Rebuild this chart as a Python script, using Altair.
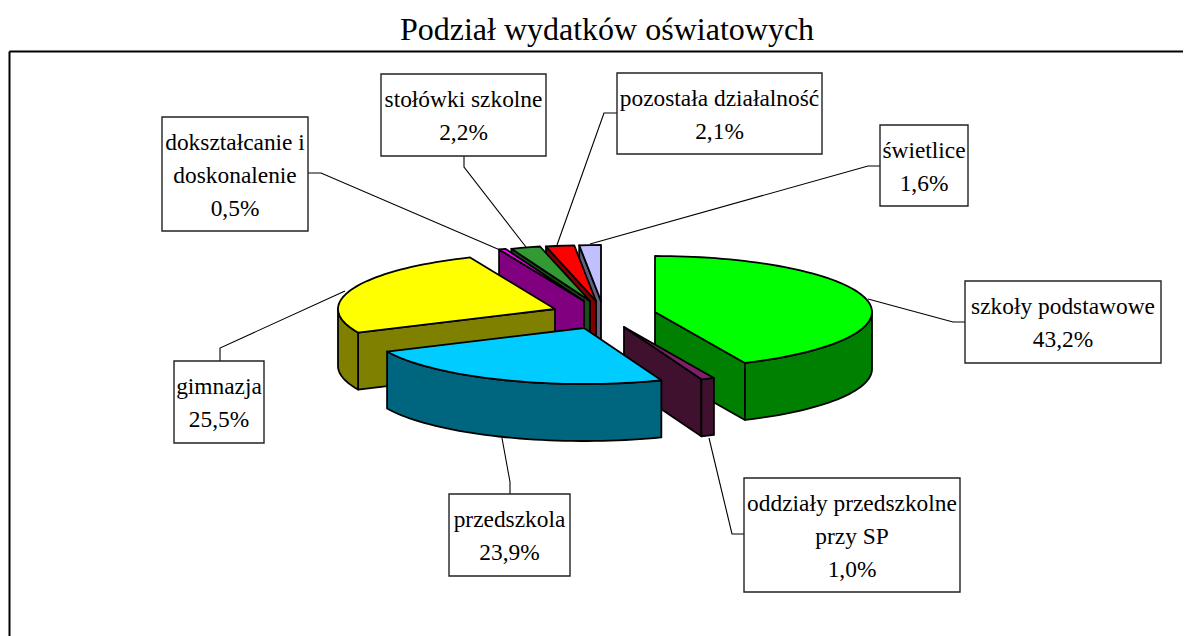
import math
import altair as alt
import pandas as pd

TITLE = "Podział wydatków oświatowych"
names = ["szkoły podstawowe", "oddziały przedszkolne\nprzy SP", "przedszkola", "gimnazja",
         "dokształcanie i\ndoskonalenie", "stołówki szkolne", "pozostała działalność", "świetlice"]
values = [43.2, 1.0, 23.9, 25.5, 0.5, 2.2, 2.1, 1.6]
top_colors = ["#00FF00", "#80206A", "#00CCFF", "#FFFF00", "#FF00FF", "#339933", "#FF0000", "#C0C0FF"]
side_colors = ["#008000", "#40102F", "#006680", "#808000", "#800080", "#1A4D1A", "#800000", "#606080"]
# exploded slice apex, in picture pixels
apex_x = [655, 624, 584, 555, 584, 590, 596, 601]
apex_y = [312, 327, 328, 309, 301, 301, 301, 301]
# painter's order, back to front
draw_order = [7, 6, 5, 4, 3, 0, 1, 2]
RX, RY, DEPTH = 217, 56, 57

box_x1 = [965, 744, 449, 174, 162, 381, 617, 880]
box_x2 = [1161, 960, 570, 264, 308, 546, 822, 968]
box_y1 = [281, 478, 494, 361, 117, 74, 73, 125]
box_y2 = [363, 592, 576, 443, 231, 156, 154, 206]
leaders = [
    [(965, 322), (953, 322), (868, 299)],
    [(744, 534), (732, 534), (709, 438)],
    [(510, 494), (510, 482), (502, 438)],
    [(220, 361), (220, 348), (345, 291)],
    [(308, 173), (321, 173), (500, 250)],
    [(464, 156), (464, 167), (526, 247)],
    [(617, 113), (604, 113), (557, 245)],
    [(880, 166), (868, 166), (590, 244)],
]
LINE_H = 33


def pt(cx, cy, deg, dz=0):
    a = math.radians(deg)
    return cx + RX * math.sin(a), cy - RY * math.cos(a) + dz


# slice edges, clockwise from 12 o'clock
edges = [0]
for v in values:
    edges.append(edges[-1] + v * 3.6)

rows = []
piece = 0


def add(points, color):
    global piece
    for i, (x, y) in enumerate(points):
        rows.append({"x": x, "y": y, "i": i, "piece": f"{piece:03d}", "fill": color})
    piece += 1


for k in draw_order:
    a1, a2 = edges[k], edges[k + 1]
    cx, cy = apex_x[k], apex_y[k]
    top, side = top_colors[k], side_colors[k]
    # radial faces turned towards the viewer
    if 0 < a2 < 180:
        p = pt(cx, cy, a2)
        add([(cx, cy), p, (p[0], p[1] + DEPTH), (cx, cy + DEPTH)], side)
    if 180 < a1 < 360:
        p = pt(cx, cy, a1)
        add([(cx, cy), p, (p[0], p[1] + DEPTH), (cx, cy + DEPTH)], side)
    # outer wall
    w1, w2 = max(a1, 90), min(a2, 270)
    if w2 > w1:
        n = max(2, int((w2 - w1) / 2))
        angs = [w1 + (w2 - w1) * j / n for j in range(n + 1)]
        add([pt(cx, cy, t) for t in angs] + [pt(cx, cy, t, DEPTH) for t in reversed(angs)], side)
    # top face
    n = max(2, int((a2 - a1) / 2))
    add([(cx, cy)] + [pt(cx, cy, a1 + (a2 - a1) * j / n) for j in range(n + 1)], top)

pie = pd.DataFrame(rows)

lead = pd.DataFrame([
    {"x": x, "y": y, "i": i, "piece": f"{k}"}
    for k, path in enumerate(leaders) for i, (x, y) in enumerate(path)
])

labels = [f"{n}\n{str(v).replace('.', ',')}%" for n, v in zip(names, values)]
boxes = pd.DataFrame({
    "x": box_x1, "x2": box_x2, "y": box_y1, "y2": box_y2,
    "cx": [(a + b) / 2 for a, b in zip(box_x1, box_x2)],
    "cy": [(a + b) / 2 + 1.5 - (t.count("\n")) * LINE_H / 2 for a, b, t in zip(box_y1, box_y2, labels)],
    "label": labels,
})

xs = alt.Scale(domain=[9, 1183], nice=False, zero=False)
ys = alt.Scale(domain=[51, 636], reverse=True, nice=False, zero=False)
ax = alt.Axis(ticks=False, labels=False, grid=False, title=None, domain=True,
              domainColor="#000000", domainWidth=2, orient="top")
ay = alt.Axis(ticks=False, labels=False, grid=False, title=None, domain=True,
              domainColor="#000000", domainWidth=2, orient="left")
X = alt.X("x:Q", scale=xs, axis=ax)
Y = alt.Y("y:Q", scale=ys, axis=ay)

leader_layer = alt.Chart(lead).mark_line(color="#000000", strokeWidth=1.1).encode(
    x=X, y=Y, detail="piece:N", order="i:Q")

pie_layer = alt.Chart(pie).mark_line(
    interpolate="linear-closed", stroke="#000000", strokeWidth=1.8, strokeJoin="round"
).encode(
    x=X, y=Y, fill=alt.Fill("fill:N", scale=None), detail="piece:N", order="i:Q")

box_layer = alt.Chart(boxes).mark_rect(fill="#FFFFFF", stroke="#222222", strokeWidth=1.4).encode(
    x=X, x2="x2:Q", y=Y, y2="y2:Q")

text_layer = alt.Chart(boxes).mark_text(
    font="Liberation Serif", fontSize=23.4, lineBreak="\n", lineHeight=LINE_H,
    align="center", baseline="middle", color="#000000"
).encode(
    x=alt.X("cx:Q", scale=xs, axis=ax), y=alt.Y("cy:Q", scale=ys, axis=ay), text="label:N")

chart = alt.layer(leader_layer, pie_layer, box_layer, text_layer).properties(
    width=1174, height=585,
    title=alt.TitleParams(TITLE, font="Liberation Serif", fontSize=32, fontWeight="normal",
                          color="#000000", dx=11, offset=4, anchor="middle"),
    autosize=alt.AutoSizeParams(type="none"),
    padding={"left": 1, "top": 43, "right": 0, "bottom": 0},
).configure_view(stroke=None)

chart.save("out.html", embed_options={"renderer": "svg", "actions": False})
